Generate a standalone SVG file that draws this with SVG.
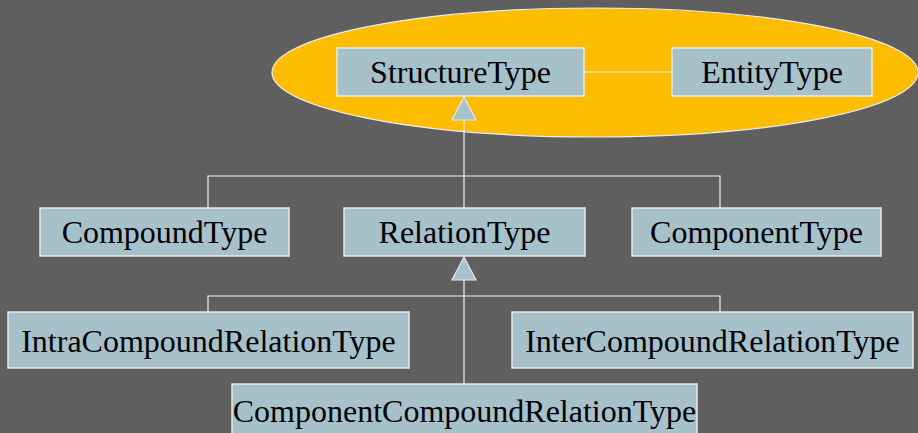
<svg xmlns="http://www.w3.org/2000/svg" width="918" height="433" viewBox="0 0 918 433">
<style>
.bg{fill:#5f5f5f}
.node rect{fill:#a7c1ca;stroke:#e8e8e8;stroke-width:1.5}
.node text{font-family:"Liberation Serif","Times New Roman",serif;font-size:32px;fill:#000;text-anchor:middle}
.conn line,.conn polyline{stroke:#f0f0f0;stroke-width:1.2;fill:none}
.conn polygon{fill:#a7c1ca;stroke:#e8e8e8;stroke-width:1.2}
</style>
<rect class="bg" x="0" y="0" width="918" height="433"/>
<ellipse id="group-ellipse" cx="595" cy="72.5" rx="323" ry="64.5" fill="#ffbd00" stroke="#eeeeee" stroke-width="1.2"/>
<g class="conn" id="connectors">
<line x1="584" y1="72" x2="672" y2="72"/>
<line x1="464" y1="120" x2="464" y2="208"/>
<polyline points="208,208 208,176 720,176 720,208"/>
<polygon points="464,97 452,120 476,120"/>
<line x1="464" y1="280" x2="464" y2="384"/>
<polyline points="208,312 208,296 720,296 720,312"/>
<polygon points="464,257 452,280 476,280"/>
</g>
<g class="node" id="StructureType"><rect x="337" y="48" width="247" height="48"/><text x="460.5" y="83">StructureType</text></g>
<g class="node" id="EntityType"><rect x="672" y="48" width="200" height="48"/><text x="772" y="83">EntityType</text></g>
<g class="node" id="CompoundType"><rect x="40" y="208" width="249" height="48"/><text x="164.5" y="243">CompoundType</text></g>
<g class="node" id="RelationType"><rect x="344" y="208" width="241" height="48"/><text x="464.5" y="243">RelationType</text></g>
<g class="node" id="ComponentType"><rect x="632" y="208" width="249" height="48"/><text x="756.5" y="243">ComponentType</text></g>
<g class="node" id="IntraCompoundRelationType"><rect x="8" y="312" width="401" height="56"/><text x="208.5" y="352">IntraCompoundRelationType</text></g>
<g class="node" id="InterCompoundRelationType"><rect x="512" y="312" width="401" height="56"/><text x="712.5" y="352">InterCompoundRelationType</text></g>
<g class="node" id="ComponentCompoundRelationType"><rect x="232" y="384" width="465" height="56"/><text x="464.5" y="422">ComponentCompoundRelationType</text></g>
</svg>
